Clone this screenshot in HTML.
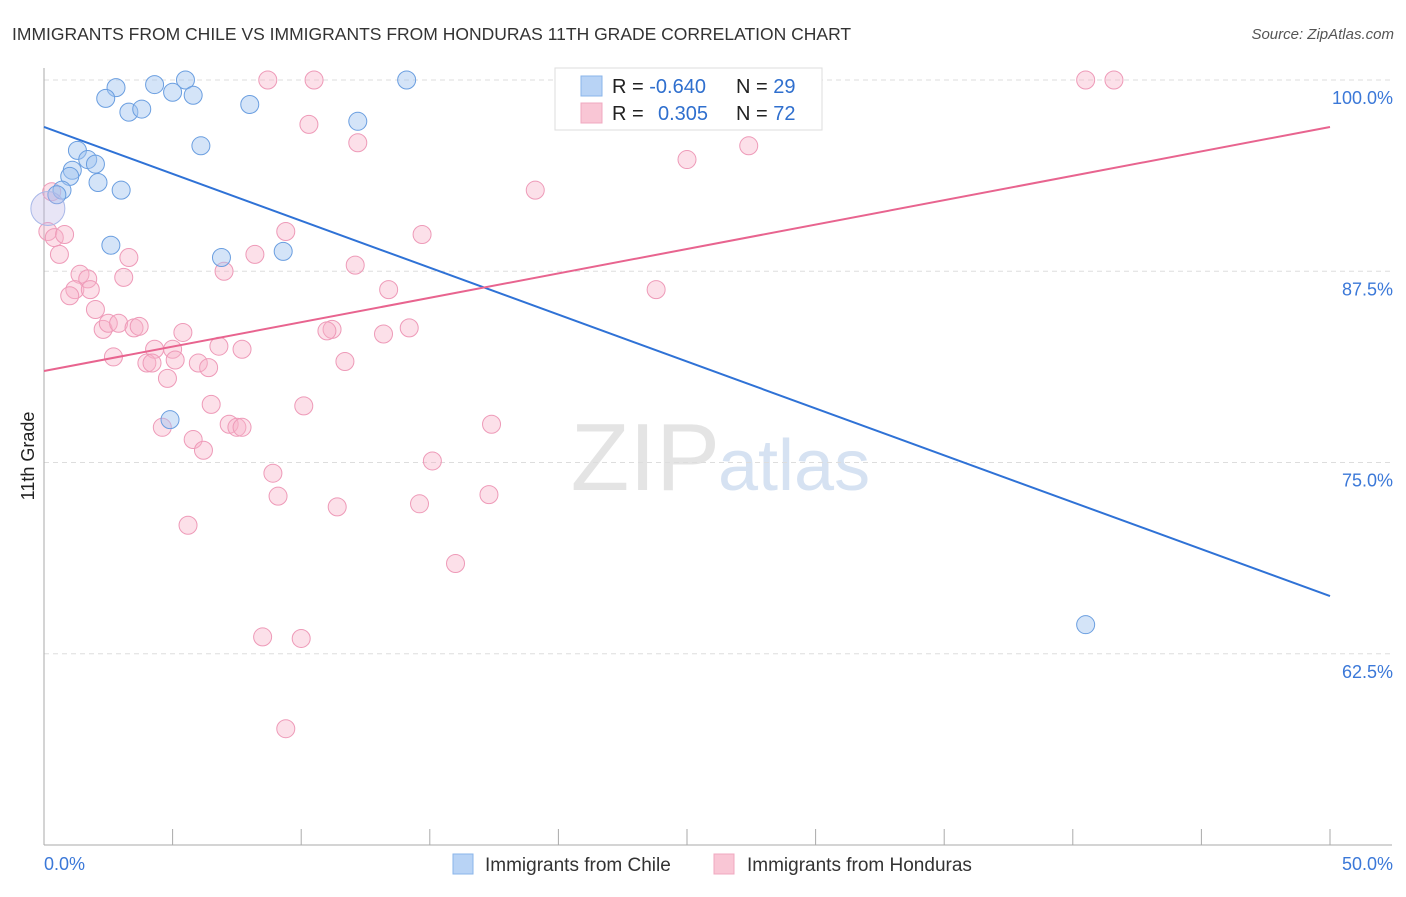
<!DOCTYPE html>
<html><head><meta charset="utf-8"><style>
body{margin:0;background:#fff;font-family:"Liberation Sans",sans-serif;}
svg text{font-family:"Liberation Sans",sans-serif;}
</style></head><body>
<svg id="chart" width="1406" height="892">
<text x="12" y="40" font-size="17.5" fill="#333">IMMIGRANTS FROM CHILE VS IMMIGRANTS FROM HONDURAS 11TH GRADE CORRELATION CHART</text>
<text x="1394" y="39" font-size="15" fill="#555" font-style="italic" text-anchor="end">Source: ZipAtlas.com</text>
<text x="720" y="490" font-size="96" fill="#e4e4e4" text-anchor="end" font-family="Liberation Serif">ZIP</text>
<text x="718" y="490" font-size="72" fill="#d6e2f2">atlas</text>
<g id="grid"></g><g id="axes"></g><g id="pts"></g><g id="lines"></g>
<text transform="translate(34,456) rotate(-90)" font-size="18" fill="#222" text-anchor="middle">11th Grade</text>
<g>
<rect x="555" y="68" width="267" height="62" fill="#fff" stroke="#ddd"/>
<rect x="581" y="76" width="21" height="20" fill="#b8d3f5" stroke="#8ab4ea"/>
<rect x="581" y="103" width="21" height="20" fill="#f9c6d5" stroke="#f0a8c0"/>
<text x="612" y="93" font-size="20" fill="#222">R = <tspan fill="#2f6fce">-0.640</tspan></text>
<text x="736" y="93" font-size="20" fill="#222">N = <tspan fill="#2f6fce">29</tspan></text>
<text x="612" y="120" font-size="20" fill="#222">R = </text>
<text x="658" y="120" font-size="20" fill="#2f6fce">0.305</text>
<text x="736" y="120" font-size="20" fill="#222">N = <tspan fill="#2f6fce">72</tspan></text>
</g>
<g>
<rect x="453" y="854" width="20" height="20" fill="#b8d3f5" stroke="#8ab4ea"/>
<text x="485" y="871" font-size="19" fill="#333">Immigrants from Chile</text>
<rect x="714" y="854" width="20" height="20" fill="#f9c6d5" stroke="#f0a8c0"/>
<text x="747" y="871" font-size="19" fill="#333">Immigrants from Honduras</text>
</g>
</svg>
<script>
const yTicks=[100,87.5,75,62.5];
const yTickLabels=["100.0%","87.5%","75.0%","62.5%"];
const xTicks=[0,5,10,15,20,25,30,35,40,45,50];
const chileX=[2.8,2.4,4.3,5.5,5.0,5.8,3.3,3.8,8.0,12.2,14.1,6.1,1.3,1.7,2.0,1.1,1.0,2.1,0.7,0.5,3.0,0.15,2.6,6.9,9.3,4.9,40.5];
const chileY=[99.5,98.8,99.7,100,99.2,99.0,97.9,98.1,98.4,97.3,100,95.7,95.4,94.8,94.5,94.1,93.7,93.3,92.8,92.5,92.8,91.6,89.2,88.4,88.8,77.8,64.4];
const hondX=[8.7,10.5,40.5,41.6,24.6,28.2,10.3,12.2,25.0,27.4,19.1,0.3,0.15,0.4,0.8,0.6,14.7,9.4,3.3,8.2,12.1,7.0,1.4,1.7,3.1,1.2,1.8,1.0,13.4,23.8,2.0,2.3,2.5,2.9,3.5,3.7,5.4,11.2,11.0,13.2,14.2,4.3,5.0,6.8,7.7,2.7,4.0,4.2,5.1,6.0,6.4,11.7,4.8,6.5,10.1,17.4,4.6,7.2,7.5,7.7,5.8,6.2,15.1,8.9,9.1,17.3,11.4,14.6,5.6,16.0,8.5,10.0,9.4];
const hondY=[100,100,100,100,100,100,97.1,95.9,94.8,95.7,92.8,92.7,90.1,89.7,89.9,88.6,89.9,90.1,88.4,88.6,87.9,87.5,87.3,87.0,87.1,86.3,86.3,85.9,86.3,86.3,85.0,83.7,84.1,84.1,83.8,83.9,83.5,83.7,83.6,83.4,83.8,82.4,82.4,82.6,82.4,81.9,81.5,81.5,81.7,81.5,81.2,81.6,80.5,78.8,78.7,77.5,77.3,77.5,77.3,77.3,76.5,75.8,75.1,74.3,72.8,72.9,72.1,72.3,70.9,68.4,63.6,63.5,57.6];
const chileTrend=[96.93,66.27];
const hondTrend=[80.98,96.93];
const X=v=>44+v/50*1286, Y=v=>80+(100-v)*15.3;
const NS="http://www.w3.org/2000/svg";
function mk(p,tag,a){const e=document.createElementNS(NS,tag);for(const k in a)e.setAttribute(k,a[k]);p.appendChild(e);return e;}
const grid=document.getElementById('grid'),axes=document.getElementById('axes'),pts=document.getElementById('pts'),lines=document.getElementById('lines');
yTicks.forEach((t,i)=>{
 const l=mk(grid,'line',{x1:44,x2:1392,y1:Y(t),y2:Y(t),stroke:'#ddd','stroke-dasharray':'5,4'});
 
 
 const tx=mk(axes,'text',{x:1393,y:Y(t)+24,'font-size':18,fill:'#3b78d8','text-anchor':'end'});
 tx.textContent=yTickLabels[i];
 
 
});
const ax=mk(axes,'line',{x1:44,x2:44,y1:68,y2:845,stroke:'#aaa'});


const bx=mk(axes,'line',{x1:44,x2:1392,y1:845,y2:845,stroke:'#aaa'});


xTicks.forEach(t=>{
 const l=mk(axes,'line',{x1:X(t),x2:X(t),y1:829,y2:845,stroke:'#aaa'});
 
 
});
const x0=mk(axes,'text',{x:44,y:870,'font-size':18,fill:'#3b78d8'});x0.textContent="0.0%";


const x1=mk(axes,'text',{x:1393,y:870,'font-size':18,fill:'#3b78d8','text-anchor':'end'});x1.textContent="50.0%";


hondX.forEach((v,i)=>{
 const c=mk(pts,'circle',{cx:X(v),cy:Y(hondY[i]),r:9,fill:'rgba(248,178,200,0.4)',stroke:'#ee9ab8','stroke-width':1});
 
 
});
chileX.forEach((v,i)=>{
 const big=i==21;
 const c=mk(pts,'circle',{cx:X(v),cy:Y(chileY[i]),r:(big?17:9),fill:big?'rgba(190,180,230,0.35)':'rgba(160,196,240,0.45)',stroke:big?'#a9b8e8':'#6a9ee0','stroke-width':1});
 
 
});
const bl=mk(lines,'line',{x1:X(0),y1:Y(chileTrend[0]),x2:X(50),y2:Y(chileTrend[1]),stroke:'#2f72d6','stroke-width':2});


const pl=mk(lines,'line',{x1:X(0),y1:Y(hondTrend[0]),x2:X(50),y2:Y(hondTrend[1]),stroke:'#e8648f','stroke-width':2});


</script>
</body></html>
